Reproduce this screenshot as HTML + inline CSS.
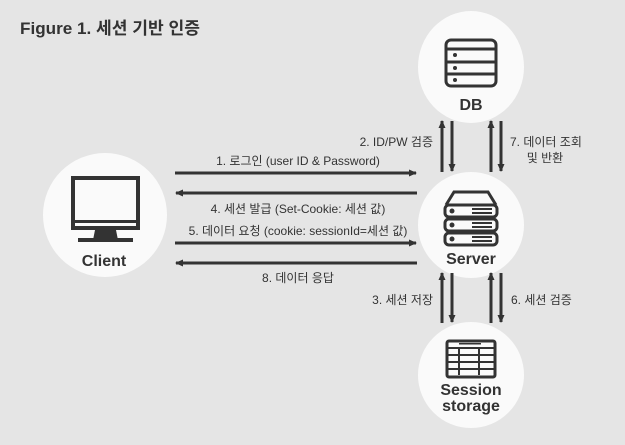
<!DOCTYPE html>
<html><head><meta charset="utf-8"><style>
body{margin:0;background:#e5e5e5;}
svg{display:block;font-family:"Liberation Sans","Noto Sans CJK KR",sans-serif;}
</style></head><body>
<svg width="625" height="445" viewBox="0 0 625 445" xmlns="http://www.w3.org/2000/svg">
<defs>
<marker id="a" markerWidth="8" markerHeight="8" refX="7" refY="4" orient="auto" markerUnits="userSpaceOnUse"><path d="M0,0.5 L8,4 L0,7.5 z" fill="#333"/></marker>
</defs>
<rect width="625" height="445" fill="#e5e5e5"/>
<text x="20" y="34" font-size="17" font-weight="bold" fill="#333" textLength="180" lengthAdjust="spacingAndGlyphs">Figure 1. 세션 기반 인증</text>
<ellipse cx="471" cy="67" rx="53" ry="56" fill="#fafafa"/>
<ellipse cx="471" cy="225" rx="53" ry="53" fill="#fafafa"/>
<ellipse cx="471" cy="375" rx="53" ry="53" fill="#fafafa"/>
<ellipse cx="105" cy="215" rx="62" ry="62" fill="#fafafa"/>
<g fill="none" stroke="#333" stroke-width="3">
<rect x="446" y="40" width="50" height="46" rx="5"/>
<line x1="446" y1="49" x2="496" y2="49"/><line x1="446" y1="62" x2="496" y2="62"/><line x1="446" y1="74" x2="496" y2="74"/>
</g>
<circle cx="455" cy="55" r="2" fill="#333"/><circle cx="455" cy="68" r="2" fill="#333"/><circle cx="455" cy="80" r="2" fill="#333"/>
<text x="471" y="110" font-size="16" font-weight="bold" fill="#333" text-anchor="middle">DB</text>
<g fill="none" stroke="#333" stroke-width="3">
<path d="M446,205 L454,192 L488,192 L496,205"/>
<rect x="445" y="205" width="52" height="12" rx="4"/>
<rect x="445" y="219" width="52" height="12" rx="4"/>
<rect x="445" y="233" width="52" height="12" rx="4"/>
</g>
<g fill="#333"><circle cx="452" cy="211" r="2.5"/><circle cx="452" cy="225" r="2.5"/><circle cx="452" cy="239" r="2.5"/>
<rect x="472" y="208" width="20" height="2"/><rect x="472" y="212" width="20" height="2"/>
<rect x="472" y="222" width="20" height="2"/><rect x="472" y="226" width="20" height="2"/>
<rect x="472" y="236" width="20" height="2"/><rect x="472" y="240" width="20" height="2"/></g>
<text x="471" y="264" font-size="16" font-weight="bold" fill="#333" text-anchor="middle">Server</text>
<rect x="447" y="341" width="48" height="36" rx="2" fill="none" stroke="#333" stroke-width="3"/>
<g fill="#333"><rect x="447" y="347" width="48" height="2"/><rect x="447" y="354" width="48" height="2"/><rect x="447" y="361" width="48" height="2"/><rect x="447" y="368" width="48" height="2"/>
<rect x="458" y="347" width="2" height="28"/><rect x="478" y="347" width="2" height="28"/>
<rect x="459" y="343" width="22" height="1.5"/></g>
<text x="471" y="395" font-size="16" font-weight="bold" fill="#333" text-anchor="middle">Session</text>
<text x="471" y="411" font-size="16" font-weight="bold" fill="#333" text-anchor="middle">storage</text>
<rect x="73" y="178" width="65" height="50" fill="none" stroke="#333" stroke-width="4"/>
<rect x="73" y="220" width="65" height="3" fill="#333"/>
<path d="M95,230 L93,240 L118,240 L116,230 z" fill="#333"/>
<rect x="78" y="238" width="55" height="4" fill="#333"/>
<text x="104" y="266" font-size="16" font-weight="bold" fill="#333" text-anchor="middle">Client</text>
<g stroke="#333" stroke-width="3">
<line x1="175" y1="173" x2="416" y2="173" marker-end="url(#a)"/>
<line x1="417" y1="193" x2="176" y2="193" marker-end="url(#a)"/>
<line x1="175" y1="243" x2="416" y2="243" marker-end="url(#a)"/>
<line x1="417" y1="263" x2="176" y2="263" marker-end="url(#a)"/>
<line x1="442" y1="172" x2="442" y2="121" marker-end="url(#a)"/>
<line x1="452" y1="121" x2="452" y2="171" marker-end="url(#a)"/>
<line x1="491" y1="172" x2="491" y2="121" marker-end="url(#a)"/>
<line x1="501" y1="121" x2="501" y2="171" marker-end="url(#a)"/>
<line x1="442" y1="323" x2="442" y2="273" marker-end="url(#a)"/>
<line x1="452" y1="273" x2="452" y2="322" marker-end="url(#a)"/>
<line x1="491" y1="323" x2="491" y2="273" marker-end="url(#a)"/>
<line x1="501" y1="273" x2="501" y2="322" marker-end="url(#a)"/>
</g>
<g font-size="12" fill="#333">
<text x="298" y="165" text-anchor="middle">1. 로그인 (user ID &amp; Password)</text>
<text x="298" y="213" text-anchor="middle">4. 세션 발급 (Set-Cookie: 세션 값)</text>
<text x="298" y="235" text-anchor="middle">5. 데이터 요청 (cookie: sessionId=세션 값)</text>
<text x="298" y="282" text-anchor="middle">8. 데이터 응답</text>
<text x="433" y="146" text-anchor="end">2. ID/PW 검증</text>
<text x="433" y="304" text-anchor="end">3. 세션 저장</text>
<text x="510" y="146">7. 데이터 조회</text>
<text x="545" y="162" text-anchor="middle">및 반환</text>
<text x="511" y="304">6. 세션 검증</text>
</g>
</svg>
</body></html>
